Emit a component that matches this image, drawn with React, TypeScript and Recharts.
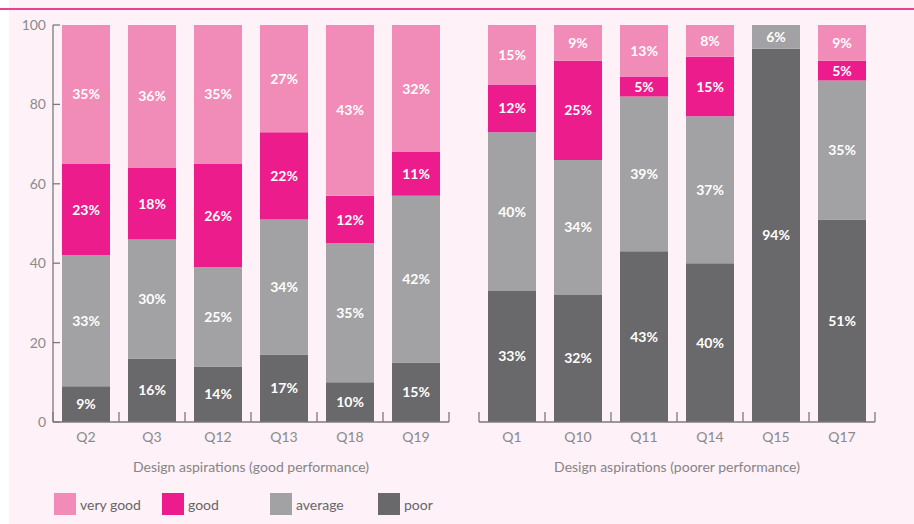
import React from 'react';
import { BarChart, Bar, XAxis, YAxis, LabelList } from 'recharts';

const goodCategories = ['Q2', 'Q3', 'Q12', 'Q13', 'Q18', 'Q19'];
const goodPoor = [9, 16, 14, 17, 10, 15];
const goodAverage = [33, 30, 25, 34, 35, 42];
const goodGood = [23, 18, 26, 22, 12, 11];
const goodVeryGood = [35, 36, 35, 27, 43, 32];

const poorerCategories = ['Q1', 'Q10', 'Q11', 'Q14', 'Q15', 'Q17'];
const poorerPoor = [33, 32, 43, 40, 94, 51];
const poorerAverage = [40, 34, 39, 37, 6, 35];
const poorerGood = [12, 25, 5, 15, 0, 5];
const poorerVeryGood = [15, 9, 13, 8, 0, 9];

const yTicks = [0, 20, 40, 60, 80, 100];

const seriesNames = ['very good', 'good', 'average', 'poor'];
const seriesKeys = ['veryGood', 'good', 'average', 'poor'];
const colors: Record<string, string> = {
  veryGood: '#f18bb7',
  good: '#ec1c8c',
  average: '#a2a2a4',
  poor: '#69696b',
};

const FONT = 'Lato, "Open Sans", sans-serif';
const AXIS = '#7a7a7a';
const BG = '#fef1f8';

function build(cats: string[], p: number[], a: number[], g: number[], v: number[]) {
  return cats.map((c, i) => ({ name: c, poor: p[i], average: a[i], good: g[i], veryGood: v[i] }));
}

const goodData = build(goodCategories, goodPoor, goodAverage, goodGood, goodVeryGood);
const poorerData = build(poorerCategories, poorerPoor, poorerAverage, poorerGood, poorerVeryGood);

const XTick = (props: any) => {
  const { x, y, payload, index, bandWidth, count } = props;
  const left = x - bandWidth / 2;
  const right = x + bandWidth / 2;
  return (
    <g>
      <line x1={left} x2={left} y1={y - 10} y2={y} stroke={AXIS} strokeWidth={1.3} />
      {index === count - 1 && (
        <line x1={right} x2={right} y1={y - 10} y2={y} stroke={AXIS} strokeWidth={1.3} />
      )}
      <text x={x} y={y + 20} textAnchor="middle" fill="#8a8a8a" fontSize={14} fontFamily={FONT}>
        {payload.value}
      </text>
    </g>
  );
};

const YTick = (props: any) => {
  const { x, y, payload } = props;
  return (
    <g>
      <line x1={x} x2={x + 7} y1={y} y2={y} stroke={AXIS} strokeWidth={1.3} />
      <text x={x - 7} y={y + 5} textAnchor="end" fill="#8a8a8a" fontSize={14} fontFamily={FONT}>
        {payload.value}
      </text>
    </g>
  );
};

const SegLabel = (props: any) => {
  const { x, y, width, height, value } = props;
  if (!value) return null;
  return (
    <text
      x={x + width / 2}
      y={y + height / 2 + 5}
      textAnchor="middle"
      fill="#ffffff"
      fontSize={14}
      fontWeight={700}
      fontFamily={FONT}
    >
      {`${value}%`}
    </text>
  );
};

const PLOT_W = 396;

function Panel({ data, title, showY, marginLeft }: { data: any[]; title: string; showY: boolean; marginLeft: number }) {
  const bandWidth = PLOT_W / data.length;
  return (
    <BarChart
      width={marginLeft + PLOT_W + (showY ? 0 : 0) + 11}
      height={480}
      data={data}
      margin={{ top: 25, right: 11, left: showY ? 0 : marginLeft, bottom: 8 }}
      barSize={48}
    >
      <XAxis
        dataKey="name"
        height={50}
        axisLine={{ stroke: AXIS, strokeWidth: 1.3 }}
        tickLine={false}
        tickSize={0}
        tickMargin={0}
        interval={0}
        tick={<XTick bandWidth={bandWidth} count={data.length} />}
        label={{ value: title, position: 'insideBottom', offset: 0, fill: '#858585', fontSize: 14, fontFamily: FONT }}
      />
      <YAxis
        hide={!showY}
        width={marginLeft}
        domain={[0, 100]}
        ticks={yTicks}
        axisLine={{ stroke: AXIS, strokeWidth: 1.3 }}
        tickLine={false}
        tickSize={0}
        tickMargin={0}
        tick={<YTick />}
      />
      {['poor', 'average', 'good', 'veryGood'].map((k) => (
        <Bar key={k} dataKey={k} stackId="s" fill={colors[k]} isAnimationActive={false}>
          <LabelList dataKey={k} content={<SegLabel />} />
        </Bar>
      ))}
    </BarChart>
  );
}

export default function App() {
  return (
    <div style={{ position: 'absolute', left: 0, top: 0, width: 914, height: 524, background: '#ffffff', overflow: 'hidden', fontFamily: FONT }}>
      <div style={{ position: 'absolute', left: 9, top: 0, width: 905, height: 524, background: BG }} />
      <div style={{ position: 'absolute', left: 0, top: 8, width: 914, height: 2, background: '#e8438f' }} />
      <div style={{ position: 'absolute', left: 0, top: 0 }}>
        <Panel data={goodData} title="Design aspirations (good performance)" showY={true} marginLeft={53} />
      </div>
      <div style={{ position: 'absolute', left: 460, top: 0 }}>
        <Panel data={poorerData} title="Design aspirations (poorer performance)" showY={false} marginLeft={19} />
      </div>
      {seriesKeys.map((k, i) => (
        <div key={k} style={{ position: 'absolute', left: 54 + i * 108, top: 493, height: 22, display: 'flex', alignItems: 'center' }}>
          <div style={{ width: 22, height: 22, background: colors[k] }} />
          <span style={{ marginLeft: 4, fontSize: 14, color: '#666666', fontFamily: FONT }}>{seriesNames[i]}</span>
        </div>
      ))}
    </div>
  );
}
